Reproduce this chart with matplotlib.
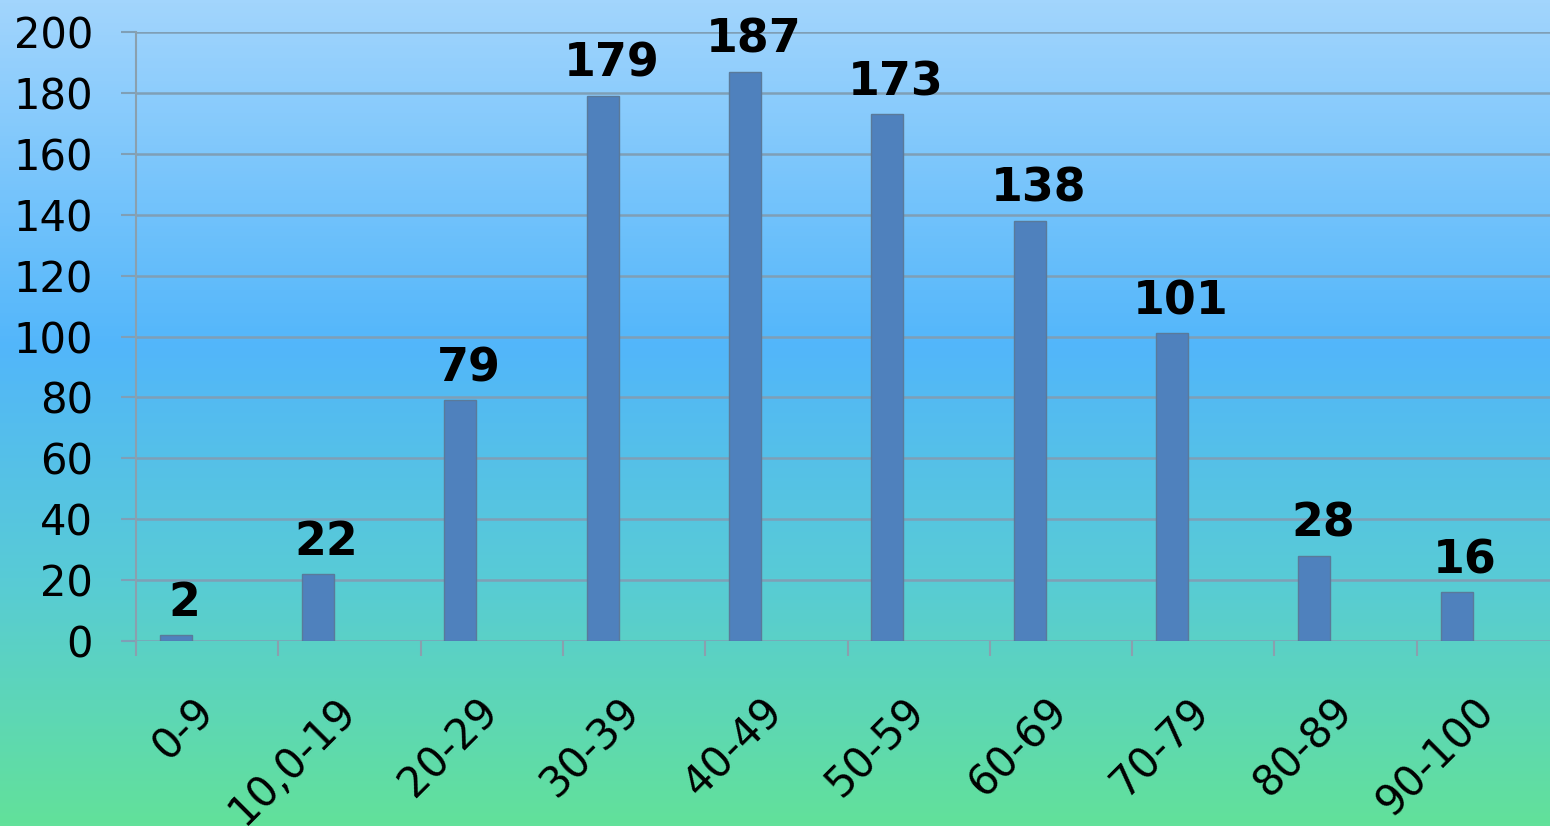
import numpy as np
import matplotlib.pyplot as plt
from matplotlib.colors import LinearSegmentedColormap

categories = ['0-9', '10,0-19', '20-29', '30-39', '40-49', '50-59',
              '60-69', '70-79', '80-89', '90-100']
counts = [2, 22, 79, 179, 187, 173, 138, 101, 28, 16]

plt.rcParams['font.family'] = ['DejaVu Sans']

fig = plt.figure(figsize=(15.5, 8.26), dpi=100)

# gradient background
bg = fig.add_axes([0, 0, 1, 1], zorder=-1)
grad = LinearSegmentedColormap.from_list(
    'bg', [(0.0, '#a2d5fd'), (0.42, '#52b6fa'), (0.70, '#58cbd6'), (1.0, '#62e19a')])
bg.imshow(np.linspace(0, 1, 256).reshape(-1, 1), cmap=grad, aspect='auto',
          extent=[0, 1, 0, 1])
bg.set_axis_off()

ax = fig.add_axes([136 / 1550, 185 / 826, 1423 / 1550, 609 / 826])
ax.patch.set_alpha(0)

x = np.arange(len(categories))
ax.bar(x - 0.22, counts, width=0.225, color='#4f81bd', edgecolor='#5a7a9a',
       linewidth=1, zorder=3)

for xi, v in zip(x, counts):
    ax.text(xi - 0.16, v + 3, str(v), ha='center', va='bottom',
            fontsize=33, fontweight='bold', color='black', zorder=4)

ax.set_xlim(-0.5, 9.5)
ax.set_ylim(0, 200)
ax.set_yticks(np.arange(0, 201, 20))
ax.yaxis.grid(True, color='#7f9fb6', linewidth=1.8, zorder=1)
ax.set_axisbelow(True)

ax.set_xticks(x)
ax.set_xticklabels(categories, rotation=45, rotation_mode='anchor',
                   ha='right', va='center', fontsize=30)
ax.tick_params(axis='x', length=0, pad=46)
ax.set_xticks(np.arange(-0.5, 10, 1), minor=True)
ax.tick_params(axis='x', which='minor', length=11, width=1.5, color='#8aa0ae')

ax.tick_params(axis='y', length=11, width=1.5, color='#7f9fb6', labelsize=30, pad=20)

for s in ['top', 'right', 'bottom']:
    ax.spines[s].set_visible(False)
ax.spines['left'].set_color('#8aa0ae')
ax.spines['left'].set_linewidth(1.5)

fig.savefig('out.png', dpi=100)
